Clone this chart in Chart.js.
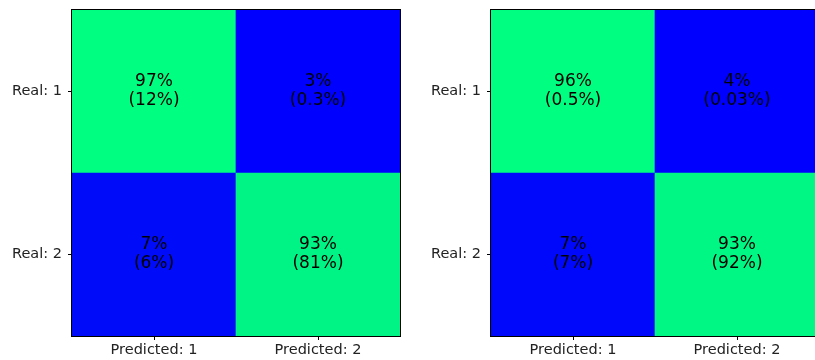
<!DOCTYPE html>
<html>
<head>
<meta charset="utf-8">
<script src="https://cdn.jsdelivr.net/npm/chart.js@4.4.1/dist/chart.umd.min.js"></script>
<style>
  html, body { margin: 0; padding: 0; background: #fff; overflow: hidden; width: 815px; height: 360px; }
  .wrap { position: absolute; top: 0; width: 410px; height: 360px; }
  #w1 { left: 0; }
  #w2 { left: 419px; }
</style>
</head>
<body>
<div class="wrap" id="w1"><canvas id="c1" width="410" height="360"></canvas></div>
<div class="wrap" id="w2"><canvas id="c2" width="410" height="360"></canvas></div>
<script>
// ---- data ----
const predictedLabels = ["Predicted: 1", "Predicted: 2"];
const realLabels = ["Real: 1", "Real: 2"];          // top row first
const leftRowPct = [[97, 3], [7, 93]];               // % of real class
const leftTotalPct = [["12%", "0.3%"], ["6%", "81%"]]; // % of all
const rightRowPct = [[96, 4], [7, 93]];
const rightTotalPct = [["0.5%", "0.03%"], ["7%", "92%"]];

// winter colormap (blue -> green), normalized to the matrix min/max
function winter(t) {
  const g = Math.round(255 * t);
  const b = Math.round(255 * (1 - 0.5 * t));
  return `rgb(0,${g},${b})`;
}

const FONT = "'DejaVu Sans', sans-serif";

const cellText = {
  id: 'cellText',
  afterDatasetsDraw(chart, args, opts) {
    const ctx = chart.ctx;
    ctx.save();
    ctx.fillStyle = '#000';
    ctx.font = `17px ${FONT}`;
    ctx.textAlign = 'center';
    ctx.textBaseline = 'middle';
    chart.data.datasets.forEach((ds, di) => {
      const meta = chart.getDatasetMeta(di);
      meta.data.forEach((el, ci) => {
        const cx = el.x;
        const cy = (el.y + el.base) / 2;
        ctx.fillText(ds.line1[ci], cx, cy - 9.5);
        ctx.fillText(ds.line2[ci], cx, cy + 9.5);
      });
    });
    // frame
    const a = chart.chartArea;
    ctx.strokeStyle = '#000';
    ctx.lineWidth = 1;
    ctx.strokeRect(Math.round(a.left) - 0.5, Math.round(a.top) - 0.5,
                   Math.round(a.right - a.left) + 1, Math.round(a.bottom - a.top) + 1);
    ctx.restore();
  }
};

function makeChart(id, rowPct, totalPct) {
  const flat = rowPct.flat();
  const vmin = Math.min(...flat), vmax = Math.max(...flat);
  const norm = v => (v - vmin) / (vmax - vmin);
  // datasets: bottom row (Real: 2) first, then top row (Real: 1)
  const rows = [1, 0];
  const datasets = rows.map(r => ({
    label: realLabels[r],
    data: predictedLabels.map(() => 1),
    backgroundColor: rowPct[r].map(v => winter(norm(v))),
    borderWidth: 0,
    barPercentage: 1,
    categoryPercentage: 1,
    line1: rowPct[r].map(v => v + "%"),
    line2: totalPct[r].map(s => "(" + s + ")")
  }));
  const yTickVals = [1.5, 0.5];
  return new Chart(document.getElementById(id), {
    type: 'bar',
    data: { labels: predictedLabels, datasets },
    plugins: [cellText],
    options: {
      responsive: false,
      animation: false,
      layout: { padding: { top: 10, right: 10, left: 0, bottom: 0 } },
      plugins: { legend: { display: false }, tooltip: { enabled: false } },
      scales: {
        x: {
          stacked: true,
          grid: { display: true, drawOnChartArea: false, offset: false, tickLength: 4, color: '#000', tickWidth: 1 },
          border: { display: false },
          ticks: { color: '#222', font: { family: FONT, size: 14.5 }, padding: 2, maxRotation: 0 },
          afterFit(axis) { axis.height = 24; axis.paddingLeft = 0; axis.paddingRight = 0; }
        },
        y: {
          stacked: true,
          min: 0, max: 2,
          grid: { display: true, drawOnChartArea: false, tickLength: 4, color: '#000', tickWidth: 1 },
          border: { display: false },
          afterBuildTicks(axis) { axis.ticks = yTickVals.map(v => ({ value: v })); },
          ticks: {
            color: '#222', font: { family: FONT, size: 14.5 }, padding: 6,
            callback: (v) => (v > 1 ? realLabels[0] : realLabels[1])
          },
          afterFit(axis) { axis.width = 72; axis.paddingTop = 0; axis.paddingBottom = 0; }
        }
      }
    }
  });
}

makeChart('c1', leftRowPct, leftTotalPct);
makeChart('c2', rightRowPct, rightTotalPct);
</script>
</body>
</html>
